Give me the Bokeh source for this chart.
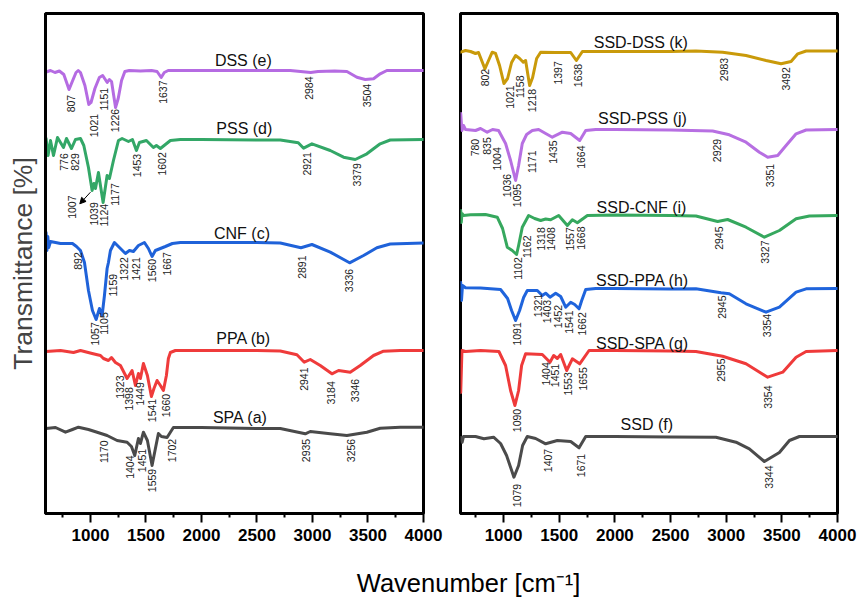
import numpy as np
from bokeh.plotting import figure
from bokeh.layouts import row, column
from bokeh.models import Range1d, FixedTicker, Label, Arrow, NormalHead
from bokeh.core.properties import value
from bokeh.embed import file_html
from bokeh.resources import INLINE

FONT = "Liberation Sans"

# ---------------- data (stacked transmittance, a.u.) ----------------
# left panel
wn_dss = [600, 640, 680, 720, 760, 807, 840, 870, 890, 910, 950, 985, 1005, 1040, 1080, 1110, 1151, 1170, 1190, 1226, 1250, 1280, 1310, 1350, 1450, 1550, 1600, 1637, 1665, 1700, 2000, 2500,
          2800, 2984, 3050, 3200, 3310, 3400, 3475, 3550, 3610, 3670, 4000]
t_dss = [441.5, 443, 441, 442.5, 439, 424, 433, 441, 443, 441, 428, 409, 411, 425, 436, 438, 431, 434, 432, 406, 415, 433, 442, 443, 442.5, 443, 442, 436, 441, 443, 443, 443,
         443, 441, 442, 442.5, 442, 436.3, 434, 434.7, 439.7, 443, 443]

wn_pss = [600, 618, 640, 667, 703, 757, 784, 829, 865, 910, 940, 982, 1015, 1031, 1045, 1072, 1090, 1114, 1150, 1171, 1207, 1252, 1285, 1342, 1378, 1414, 1441, 1504, 1567, 1594, 1630, 1720, 1810, 2000, 2500,
          2710, 2872, 2920, 2995, 3160, 3280, 3385, 3490, 3610, 3700, 4000]
t_pss = [375, 358, 373, 358, 376, 366, 375, 365, 374, 375, 368, 346, 323, 330, 325, 341, 328, 311, 338, 335, 353, 373, 375, 372, 374, 363, 371, 373, 366, 368, 365, 373, 374, 374, 373.5,
         373.5, 370.7, 365.3, 369.7, 363, 356.3, 354, 359.7, 369.7, 373.5, 374]

wn_cnf = [600, 608, 616, 624, 640, 730, 838, 874, 910, 946, 982, 1018, 1051, 1081, 1105, 1126, 1150, 1162, 1180, 1216, 1252, 1315, 1351, 1387, 1432, 1486, 1522, 1555, 1585, 1630, 1675, 1738, 1810, 2000, 2500,
          2710, 2896, 2995, 3160, 3334, 3460, 3580, 3700, 4000]
t_cnf = [281, 263, 277, 266, 272, 270, 270, 267, 263, 251, 223, 203, 194, 205, 198, 218, 245, 251, 263, 271, 267, 260, 263, 262, 268, 271, 265, 257, 263, 265, 267, 270, 271, 271, 271,
         270.5, 265.7, 269, 261.4, 250.7, 258, 265.7, 269.5, 270.5]

wn_ppa = [600, 730, 847, 910, 1015, 1090, 1117, 1162, 1189, 1225, 1270, 1330, 1375, 1405, 1432, 1450, 1477, 1513, 1549, 1572, 1600, 1630, 1657, 1684, 1702, 1720, 1765, 2000, 2500,
          2710, 2860, 2926, 2980, 3070, 3175, 3235, 3340, 3430, 3550, 3640, 3790, 4000]
t_ppa = [162, 163, 161, 163, 160, 158, 155, 153, 156, 151, 148, 135, 143, 128, 140, 135, 150, 138, 117, 125, 133, 128, 123, 138, 155, 161, 163, 163, 163,
         162.5, 158.7, 151.3, 154, 148, 139.7, 143, 141.3, 148, 158, 162.3, 163, 163]

wn_spa = [600, 685, 775, 838, 892, 982, 1060, 1150, 1240, 1330, 1369, 1399, 1432, 1450, 1477, 1513, 1555, 1585, 1612, 1639, 1690, 1747, 2000, 2500,
          2710, 2935, 2980, 3160, 3310, 3490, 3610, 3790, 4000]
t_spa = [85, 86, 81.3, 84, 86.3, 84, 81.3, 78, 73, 71.3, 67, 58, 75, 70, 81.3, 73, 48, 65, 80, 77, 76, 86, 86, 85,
         85, 79.7, 82, 79.7, 78, 81.3, 85.3, 86.3, 86.3]

# right panel
wn_sdss = [615, 658, 703, 748, 775, 832, 865, 898, 928, 964, 1003, 1036, 1072, 1108, 1144, 1177, 1198, 1234, 1261, 1297, 1333, 1468, 1603, 1654, 1708, 2000, 2500,
           2728, 2968, 3178, 3358, 3493, 3583, 3643, 3718, 4000]
t_sdss = [461.3, 463, 462, 460, 461, 444.7, 453, 461.3, 460, 448, 430, 435, 451, 458, 455, 451.3, 453, 428, 436, 455, 461.3, 461, 461, 453, 462, 462, 462,
          462.5, 461.3, 458, 453, 449.7, 452, 459.7, 462.5, 462.5]

wn_spss = [615, 620, 626, 640, 658, 748, 793, 853, 901, 955, 1018, 1063, 1090, 1108, 1135, 1168, 1207, 1258, 1315, 1378, 1438, 1528, 1603, 1684, 1738, 1828, 2000, 2500,
           2878, 3028, 3178, 3298, 3373, 3463, 3538, 3628, 3718, 4000]
t_spss = [400, 392, 383, 388, 384, 383, 385, 381.3, 384, 383, 370, 353, 341, 333, 348, 370, 379, 383, 384, 380, 376.3, 381.3, 380, 373, 383, 384, 384, 383.5,
          382.5, 378.7, 371.3, 361.3, 356.3, 358, 368, 379.7, 383.5, 384]

wn_scnf = [615, 620, 626, 640, 703, 838, 943, 991, 1033, 1078, 1117, 1135, 1168, 1225, 1279, 1333, 1378, 1423, 1495, 1573, 1618, 1663, 1753, 2000, 2500,
           2728, 2923, 3013, 3178, 3343, 3478, 3628, 3748, 4000]
t_scnf = [303, 291, 300, 298, 298.7, 299, 296.3, 285, 266.3, 263, 259, 268, 286.3, 298, 295, 293, 294.5, 293.7, 298, 288, 293.7, 290.7, 298, 298.5, 298,
          297.5, 292, 294, 286.3, 276.3, 283, 294.7, 297.5, 298]

wn_sppa = [615, 622, 631, 658, 793, 973, 1036, 1072, 1108, 1144, 1180, 1213, 1303, 1348, 1378, 1417, 1468, 1513, 1558, 1603, 1639, 1678, 1702, 1738, 1828, 2000, 2500,
           2728, 2953, 3028, 3178, 3358, 3478, 3628, 3718, 4000]
t_sppa = [231, 213, 228, 225.7, 225.5, 224, 215, 203, 193, 203, 216, 223, 223, 218, 220.3, 216.3, 220.3, 217, 206.3, 211.3, 209, 204.7, 213, 224, 225, 225, 224.5,
          224.7, 220.7, 219.7, 209.7, 201.3, 206.3, 221.3, 224.7, 225]

wn_sspa = [615, 620, 626, 658, 793, 958, 1018, 1063, 1102, 1135, 1162, 1198, 1348, 1417, 1450, 1483, 1513, 1567, 1618, 1684, 1768, 2000, 2500,
           2728, 2968, 3178, 3373, 3508, 3628, 3718, 4000]
t_sspa = [121, 140, 163, 162, 163, 162, 148, 123, 108, 123, 148, 159.7, 159, 151.3, 158, 155, 159, 143, 154.7, 149.7, 163, 163, 162.5,
          162, 157.3, 149.7, 136.3, 141.3, 156.3, 162, 163]

wn_ssd = [615, 628, 640, 748, 823, 910, 973, 1027, 1093, 1135, 1171, 1213, 1288, 1378, 1483, 1603, 1678, 1738, 2000, 2500,
          2908, 3088, 3208, 3343, 3478, 3568, 3658, 4000]
t_ssd = [76, 71.3, 77, 77, 74.7, 76.3, 70, 58, 36.3, 48, 68, 77, 75, 69.7, 73, 72, 65.7, 77, 77, 76.5,
         76.3, 71.3, 64.7, 52, 61, 73, 77, 77]

# sample names
left_names = ["DSS (e)", "PSS (d)", "CNF (c)", "PPA (b)", "SPA (a)"]
right_names = ["SSD-DSS (k)", "SSD-PSS (j)", "SSD-CNF (i)", "SSD-PPA (h)", "SSD-SPA (g)", "SSD (f)"]

# peak labels (text)
left_peaks = ["807", "1021", "1151", "1226", "1637", "2984", "3504",
              "776", "829", "1007", "1039", "1124", "1177", "1453", "1602", "2921", "3379",
              "892", "1057", "1105", "1159", "1322", "1421", "1560", "1667", "2891", "3336",
              "1323", "1398", "1449", "1541", "1660", "2941", "3184", "3346",
              "1170", "1404", "1451", "1559", "1702", "2935", "3256"]
right_peaks = ["802", "1021", "1158", "1218", "1397", "1638", "2983", "3492",
               "780", "835", "1004", "1036", "1095", "1171", "1435", "1664", "2929", "3351",
               "1102", "1162", "1318", "1408", "1557", "1668", "2945", "3327",
               "1091", "1321", "1403", "1452", "1541", "1662", "2945", "3354",
               "1090", "1404", "1451", "1553", "1655", "2955", "3354",
               "1079", "1407", "1671", "3344"]

major_ticks = [1000, 1500, 2000, 2500, 3000, 3500, 4000]
minor_ticks = [750, 1250, 1750, 2250, 2750, 3250, 3750]

# ---------------- layout / annotation positions ----------------
left_name_x = [2377, 2386, 2365, 2380, 2350]
left_name_y = [453, 384.7, 279.7, 174.7, 96.3]
right_name_x = [2233, 2248, 2239, 2248, 2248, 2287]
right_name_y = [471.3, 395, 306.3, 233, 169.7, 89]

left_peak_x = [829, 1036, 1126, 1219, 1651, 2967, 3493,
               760, 865, 835, 1030, 1120, 1225, 1420, 1640, 2952, 3402,
               886, 1045, 1126, 1204, 1306, 1414, 1556, 1691, 2907, 3327,
               1264, 1345, 1450, 1556, 1676, 2928, 3168, 3387,
               1120, 1354, 1465, 1556, 1736, 2946, 3351]
left_peak_y = [418.7, 399.7, 425.7, 404.7, 433, 437, 429.7,
               360.3, 360.3, 318, 311.3, 309.7, 330.3, 359.7, 361.3, 361.3, 350.3,
               261.3, 191.3, 201.3, 239.7, 256.3, 256.3, 254.7, 261.3, 258, 244.7,
               138, 126.3, 131.3, 114.7, 119.7, 146, 132.3, 134.7,
               73, 58, 64.7, 44.7, 74.7, 74.7, 74.7]
right_peak_x = [829, 1057, 1147, 1258, 1489, 1670, 2979, 3541,
                739, 847, 943, 1027, 1123, 1258, 1447, 1700, 2916, 3390,
                1129, 1213, 1333, 1430, 1597, 1700, 2931, 3345,
                1117, 1309, 1393, 1493, 1588, 1709, 2961, 3369,
                1117, 1378, 1462, 1579, 1718, 2949, 3375,
                1123, 1399, 1700, 3381]
right_peak_y = [444.7, 428, 438, 424.7, 452.3, 449.7, 455.7, 446.3,
                374.7, 376.3, 366.3, 339.7, 329.7, 363, 373, 368, 374.7, 349.7,
                256.3, 278, 286.3, 286.3, 286.3, 287, 287, 273,
                191.3, 219.7, 213.7, 208.7, 203, 201.3, 218, 199.7,
                104.7, 151.3, 149.7, 141.3, 146.3, 155, 128,
                29.7, 64.7, 59.7, 48]
arrow_1007 = (1000, 321.3, 904, 309.7)

left_series = [(wn_dss, t_dss, "#b56be2"), (wn_pss, t_pss, "#33a767"), (wn_cnf, t_cnf, "#1f62d9"),
               (wn_ppa, t_ppa, "#ef3b3b"), (wn_spa, t_spa, "#4a4a4a")]
right_series = [(wn_sdss, t_sdss, "#c99a0a"), (wn_spss, t_spss, "#b76fe2"), (wn_scnf, t_scnf, "#36a85e"),
                (wn_sppa, t_sppa, "#1f64dc"), (wn_sspa, t_sspa, "#ef3a3a"), (wn_ssd, t_ssd, "#4b4b4b")]


def make_panel(x_start, width, b_left, b_right, ylabel):
    p = figure(width=width, height=548, x_range=Range1d(x_start, 4000), y_range=Range1d(0, 500),
               output_backend="svg", toolbar_location=None,
               min_border_left=b_left, min_border_right=b_right, min_border_top=13, min_border_bottom=35)
    p.grid.visible = False
    p.background_fill_color = "white"
    p.border_fill_color = "white"
    p.outline_line_color = "black"
    p.outline_line_width = 3
    xa = p.xaxis[0]
    xa.ticker = FixedTicker(ticks=major_ticks, minor_ticks=minor_ticks)
    xa.axis_line_width = 3
    xa.axis_line_color = "black"
    xa.major_tick_in = 0
    xa.major_tick_out = 9
    xa.minor_tick_in = 0
    xa.minor_tick_out = 4
    xa.major_tick_line_width = 2
    xa.minor_tick_line_width = 2
    xa.major_label_text_font = FONT
    xa.major_label_text_font_style = "bold"
    xa.major_label_text_font_size = "17px"
    xa.major_label_text_color = "black"
    xa.major_label_standoff = 6
    ya = p.yaxis[0]
    if ylabel:
        ya.ticker = FixedTicker(ticks=[])
        ya.axis_line_width = 3
        ya.major_tick_line_color = None
        ya.minor_tick_line_color = None
        ya.axis_label = ylabel
        ya.axis_label_text_font = FONT
        ya.axis_label_text_font_style = "normal"
        ya.axis_label_text_font_size = "26.5px"
        ya.axis_label_standoff = 8
    else:
        ya.visible = False
    return p


p1 = make_panel(595, 443, 45, 20, "Transmittance [%]")
p2 = make_panel(613, 414, 17, 20, None)

for p, series in ((p1, left_series), (p2, right_series)):
    for wn, t, col in series:
        p.line(wn, t, line_color=col, line_width=3, line_join="round", line_cap="round")

for p, names, nx, ny in ((p1, left_names, left_name_x, left_name_y), (p2, right_names, right_name_x, right_name_y)):
    p.text(x=nx, y=ny, text=names, text_align="center", text_baseline="middle",
           text_font=value(FONT), text_font_size="16px", text_color="#111111")

for p, txt, px_, py_ in ((p1, left_peaks, left_peak_x, left_peak_y), (p2, right_peaks, right_peak_x, right_peak_y)):
    p.text(x=px_, y=py_, text=txt, angle=np.pi / 2, text_align="right", text_baseline="middle",
           text_font=value(FONT), text_font_size="10.5px", text_color="#222222")

p1.add_layout(Arrow(end=NormalHead(size=6, fill_color="black", line_color="black"),
                    x_start=arrow_1007[0], y_start=arrow_1007[1], x_end=arrow_1007[2], y_end=arrow_1007[3],
                    line_width=1, line_color="black"))

p3 = figure(width=857, height=50, x_range=Range1d(0, 857), y_range=Range1d(0, 50),
            output_backend="svg", toolbar_location=None, x_axis_type=None, y_axis_type=None,
            min_border=0)
p3.grid.visible = False
p3.outline_line_color = None
p3.add_layout(Label(x=468, y=16, text="Wavenumber [cm\u207b\u00b9]", text_align="center",
                    text_baseline="middle", text_font=FONT, text_font_size="25.5px", text_color="black"))

layout = column(row(p1, p2), p3)
open("out.html", "w").write(file_html(layout, INLINE))
